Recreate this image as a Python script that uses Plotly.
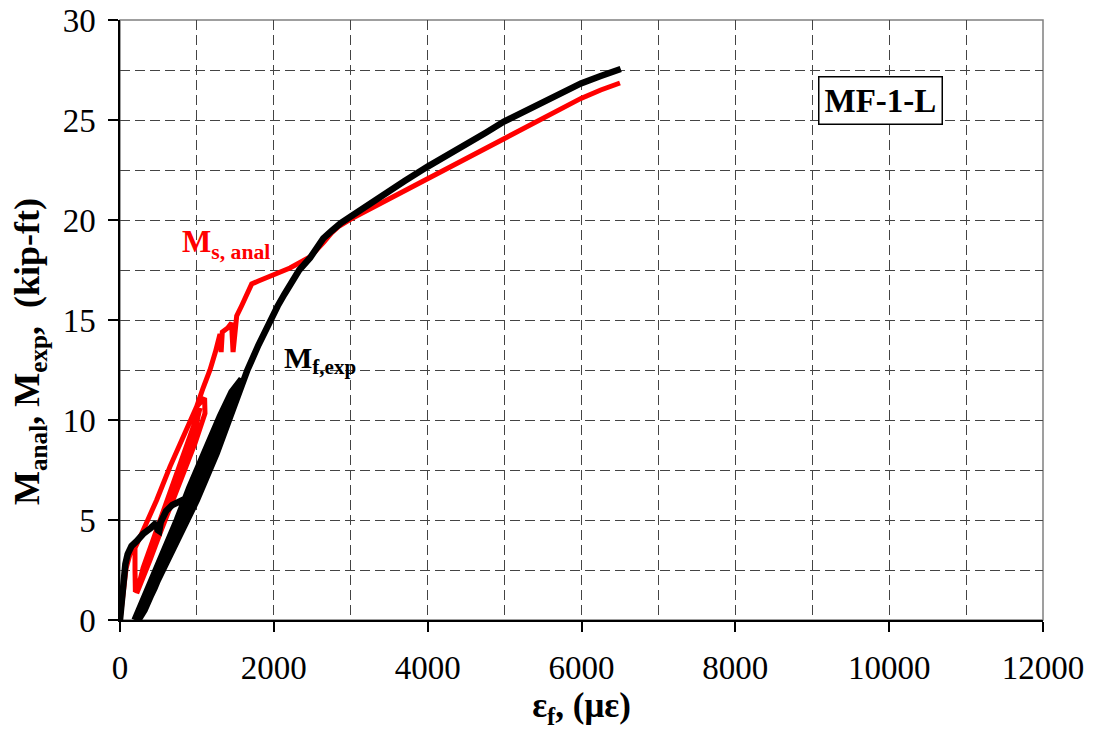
import plotly.graph_objects as go

# ---- data ----
black_x = [0, 15, 30, 50, 70, 100, 150, 220, 300, 400, 470, 490, 510, 530, 560, 600, 680, 780, 870, 950,
           900, 800, 650, 500, 350, 230, 190,
           260, 400, 560, 740, 900, 1083, 1200, 1300, 1450, 1580,
           1450, 1250, 1050, 850, 650, 450, 300, 240,
           320, 480, 610, 750, 885, 1000, 1257, 1430, 1600, 1657, 1800, 1950, 2050, 2140, 2240,
           2330, 2470, 2560, 2643, 2750, 2870, 3000, 3200, 3423, 3700, 4000, 4250, 4507, 4750,
           4992, 5373, 5700, 5993, 6250, 6478, 6510]
black_y = [0, 0.6, 1.4, 2.2, 2.8, 3.3, 3.7, 3.95, 4.3, 4.6, 4.85, 4.5, 4.45, 4.9, 5.2, 5.45, 5.75, 5.92, 6.1, 6.6,
           6.15, 5.3, 4.0, 2.75, 1.45, 0.35, 0,
           0.5, 1.8, 3.3, 5.0, 6.6, 8.33, 9.4, 10.2, 11.4, 12.05,
           10.9, 9.0, 7.2, 5.3, 3.4, 1.6, 0.4, 0,
           0.5, 1.9, 2.9, 3.9, 5.0, 6.0, 8.33, 10.17, 12.1, 12.5, 13.75, 15.0, 15.7, 16.3, 16.95,
           17.5, 18.1, 18.6, 19.08, 19.45, 19.85, 20.17, 20.7, 21.25, 21.95, 22.67, 23.2, 23.75, 24.35,
           24.92, 25.67, 26.25, 26.83, 27.2, 27.5, 27.55]

red_x = [0, 40, 80, 130, 195, 303, 477, 650, 823, 997, 1100,
         1105, 975, 802, 628, 520, 390, 217,
         300, 420, 560, 720, 880, 1040,
         980, 820, 660, 500, 360, 230, 200,
         195, 195, 303, 477, 650, 823, 997, 1080, 1170, 1240, 1300, 1315, 1330, 1400, 1450,
         1470, 1495, 1517, 1580, 1647, 1712, 1800, 1993, 2210, 2470, 2560, 2650, 2750, 2850, 3000,
         3200, 3423, 3700, 4000, 4250, 4507, 4750, 4992, 5373, 5700, 5993, 6250, 6478, 6500]
red_y = [0, 1.4, 2.6, 3.3, 3.6, 4.5, 6.0, 7.67, 9.17, 10.67, 11.1,
         10.33, 8.83, 7.17, 5.5, 4.33, 3.0, 1.33,
         2.6, 3.9, 5.4, 7.1, 8.9, 10.6,
         9.6, 7.8, 6.1, 4.5, 3.1, 1.7, 1.4,
         2.5, 3.6, 4.5, 6.0, 7.67, 9.17, 10.67, 11.6, 12.5, 13.4, 14.3, 13.4, 14.4, 14.6, 14.85,
         13.4, 14.8, 15.2, 15.7, 16.2, 16.8, 16.95, 17.25, 17.6, 18.15, 18.5, 18.9, 19.35, 19.7, 20.05,
         20.45, 20.9, 21.5, 22.08, 22.6, 23.08, 23.6, 24.08, 24.83, 25.45, 26.08, 26.5, 26.83, 26.85]

x_ticks = [0, 2000, 4000, 6000, 8000, 10000, 12000]
y_ticks = [0, 5, 10, 15, 20, 25, 30]

FONT = "Liberation Serif, Times New Roman, serif"
GRID = dict(gridcolor="#444444", gridwidth=1, griddash="10px,5px")

fig = go.Figure()
fig.add_trace(go.Scatter(x=red_x, y=red_y, mode="lines",
                         line=dict(color="#ff0000", width=5), showlegend=False))
fig.add_trace(go.Scatter(x=black_x, y=black_y, mode="lines",
                         line=dict(color="#000000", width=6.5), showlegend=False))

fig.update_layout(
    width=1094, height=735,
    margin=dict(l=120, r=51, t=20, b=115),
    plot_bgcolor="white", paper_bgcolor="white",
    font=dict(family=FONT, size=33, color="black"),
    showlegend=False,
    shapes=[dict(type="rect", xref="paper", yref="paper", x0=0, y0=0, x1=1, y1=1,
                 line=dict(color="#808080", width=1.5), layer="below")],
)

fig.update_xaxes(
    range=[0, 12000], tickvals=x_ticks, ticktext=[str(v) for v in x_ticks],
    showline=True, linecolor="black", linewidth=1.5,
    ticks="outside", ticklen=10, tickcolor="black", tickwidth=1.5,
    ticklabelstandoff=8,
    showgrid=True, **GRID,
    minor=dict(dtick=1000, tick0=0, showgrid=True, **GRID),
    zeroline=False, automargin=False,
    tickfont=dict(family=FONT, size=33),
    title=dict(text="<b>ε<sub>f</sub>, (με)</b>", font=dict(family=FONT, size=35), standoff=6),
)
fig.update_yaxes(
    range=[0, 30], tickvals=y_ticks, ticktext=[str(v) for v in y_ticks],
    showline=True, linecolor="black", linewidth=1.5,
    ticks="outside", ticklen=10, tickcolor="black", tickwidth=1.5,
    ticklabelstandoff=6,
    showgrid=True, **GRID,
    minor=dict(dtick=2.5, tick0=0, showgrid=True, **GRID),
    zeroline=False, automargin=False,
    tickfont=dict(family=FONT, size=33),
    title=dict(text="<b>M<sub>anal</sub>, M<sub>exp</sub>,  (kip-ft)" + "\u00a0" * 7 + "</b>",
               font=dict(family=FONT, size=36), standoff=12),
)

fig.add_annotation(x=9887, y=25.97, xref="x", yref="y", text="<b>MF-1-L</b>",
                   showarrow=False, font=dict(family=FONT, size=33, color="black"),
                   bgcolor="white", bordercolor="black", borderwidth=1.5, borderpad=5)
fig.add_annotation(x=780, y=18.8, xref="x", yref="y", xanchor="left", yanchor="middle",
                   text="<b>M<sub>s, anal</sub></b>", showarrow=False,
                   font=dict(family=FONT, size=31, color="#ff0000"))
fig.add_annotation(x=2106, y=13.0, xref="x", yref="y", xanchor="left", yanchor="middle",
                   text="<b>M<sub>f,exp</sub></b>", showarrow=False,
                   font=dict(family=FONT, size=30, color="black"))

fig.write_html("out.html", config={"displayModeBar": False},
               post_script="document.body.style.margin='0';")
